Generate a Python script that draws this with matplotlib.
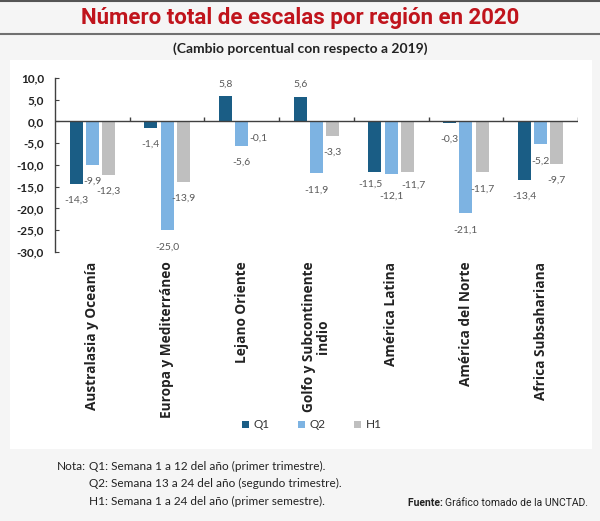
import numpy as np
import matplotlib
matplotlib.use("Agg")
import matplotlib.pyplot as plt
from matplotlib.patches import Rectangle
from matplotlib.lines import Line2D

# data
regions = ["Australasia y Oceanía", "Europa y Mediterráneo", "Lejano Oriente",
           "Golfo y Subcontinente\nindio", "América Latina", "América del Norte",
           "Africa Subsahariana"]
q1 = [-14.3, -1.4, 5.8, 5.6, -11.5, -0.3, -13.4]
q2 = [-9.9, -25.0, -5.6, -11.9, -12.1, -21.1, -5.2]
h1 = [-12.3, -13.9, -0.1, -3.3, -11.7, -11.7, -9.7]
series_names = ["Q1", "Q2", "H1"]
yticks = [10, 5, 0, -5, -10, -15, -20, -25, -30]

colors = ["#1a5d85", "#7db3e2", "#bfbfbf"]
W, H = 600, 521

# a few labels were nudged in the original to avoid overlap (points)
nudge = {(4, 0): (-3, 3), (4, 1): (0, -4), (4, 2): (4, 3)}

plt.rcParams['font.family'] = ['Lato', 'DejaVu Sans']

fig = plt.figure(figsize=(6, 5.21), dpi=100)
fig.patch.set_facecolor("#f5f5f5")

def fx(px):
    return px / W

def fy(py):
    return 1 - py / H

# white chart panel
fig.add_artist(Rectangle((fx(10), fy(449)), fx(592) - fx(10), fy(60) - fy(449),
                         transform=fig.transFigure, facecolor="white",
                         edgecolor="none", zorder=-5))
# title bar lines
fig.add_artist(Line2D([0, 1], [fy(0.8), fy(0.8)], transform=fig.transFigure,
                      color="#555555", lw=1.5))
fig.add_artist(Line2D([0, 1], [fy(34), fy(34)], transform=fig.transFigure,
                      color="#707070", lw=1.5))

narrow = ["Liberation Sans Narrow", "Roboto", "DejaVu Sans"]
fig.text(0.5, fy(18), "Número total de escalas por región en 2020",
         ha="center", va="center", fontsize=16, fontweight="bold",
         color="#c0141c", family=narrow)
fig.text(0.5, fy(49), "(Cambio porcentual con respecto a 2019)",
         ha="center", va="center", fontsize=10, fontweight="bold", color="#222222")

ax = fig.add_axes([fx(55), fy(252), fx(578) - fx(55), fy(78) - fy(252)])
ax.set_facecolor("none")

x = np.arange(len(regions))
bw = 0.174
step = 0.218
for i, (vals, name) in enumerate(zip([q1, q2, h1], series_names)):
    xs = x + (i - 1) * step
    ax.bar(xs, vals, width=bw, color=colors[i], label=name, zorder=2)
    for j, (xi, v) in enumerate(zip(xs, vals)):
        txt = f"{v:.1f}".replace(".", ",")
        dx, dy = nudge.get((j, i), (0, 0))
        off = 9 if v > 0 else -12
        ax.annotate(txt, (xi, v), xytext=(dx, off + dy), textcoords="offset points",
                    ha="center", va="center", fontsize=7.5, color="#595959")

ax.set_xlim(-0.5, len(regions) - 0.5)
ax.set_ylim(-30, 10)
ax.set_yticks(yticks)
ax.set_yticklabels([f"{t:.1f}".replace(".", ",") for t in yticks],
                   fontsize=8.5, fontweight="bold", color="#222222")
ax.tick_params(axis="y", direction="in", length=3, color="#404040", pad=8)

for s in ["top", "right", "bottom"]:
    ax.spines[s].set_visible(False)
ax.spines["left"].set_color("#404040")
ax.spines["left"].set_linewidth(1)

# zero line with category separators
ax.axhline(0, color="#404040", lw=1, zorder=3)
ax.set_xticks([])
ax.vlines(np.arange(1, len(regions) + 1) - 0.5, 0, 1.0, color="#404040",
          lw=1, zorder=3)

for xi, name in zip(x, regions):
    ax.text(xi, -32.2, name, rotation=90, ha="center", va="top",
            fontsize=9.8, fontweight="bold", color="#222222",
            family=["Open Sans", "DejaVu Sans"], linespacing=1.0,
            multialignment="center", clip_on=False)

leg = fig.legend(loc="center", bbox_to_anchor=(fx(312), fy(425)), ncol=3,
                 frameon=False, fontsize=8.5, handlelength=0.6, handleheight=0.6,
                 handletextpad=0.4, columnspacing=2.4)
for t in leg.get_texts():
    t.set_color("#333333")

fig.text(fx(57), fy(466), "Nota:", ha="left", va="center", fontsize=8.5,
         color="#222222")
notes = ["Q1: Semana 1 a 12 del año (primer trimestre).",
         "Q2: Semana 13 a 24 del año (segundo trimestre).",
         "H1: Semana 1 a 24 del año (primer semestre)."]
for k, n in enumerate(notes):
    fig.text(fx(89), fy(466 + 17.5 * k), n, ha="left", va="center",
             fontsize=8.5, color="#222222")

src = fig.text(fx(588), fy(503), "Gráfico tomado de la UNCTAD.", ha="right",
               va="center", fontsize=7.5, color="#222222", family=narrow)
ax.annotate("Fuente: ", xy=(0, 0.5), xycoords=src, ha="right", va="center",
            fontsize=7.5, fontweight="bold", color="#222222", family=narrow,
            annotation_clip=False)

fig.savefig("out.png", dpi=100, facecolor=fig.get_facecolor())
